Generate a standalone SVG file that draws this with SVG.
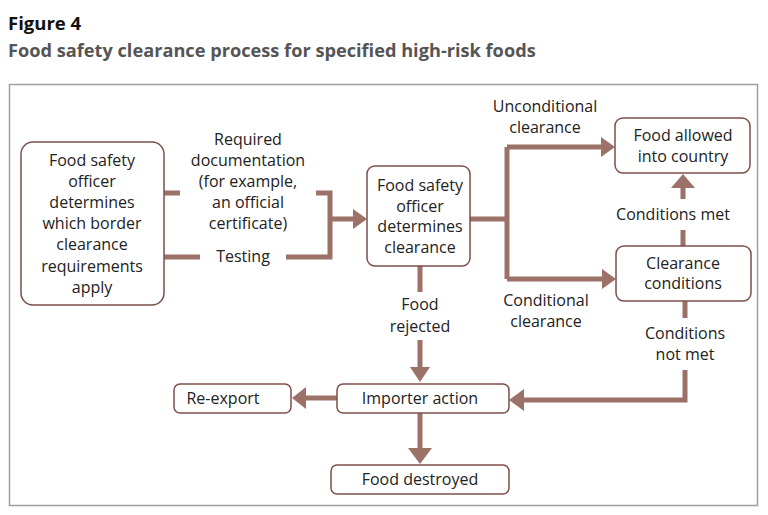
<svg xmlns="http://www.w3.org/2000/svg" width="768" height="515" viewBox="0 0 768 515">
<defs>
<style>
.box{fill:#fff;stroke:#7d4f49;stroke-width:1.5}
.ln{fill:none;stroke:#9b7168;stroke-width:5}
.ah{fill:#9b7168}
text{font-family:"Open Sans","Liberation Sans",sans-serif;font-size:16px;fill:#222;text-anchor:middle}
.t1{font-size:18.5px;font-weight:bold;text-anchor:start;fill:#111}
.t2{font-size:18.2px;font-weight:bold;text-anchor:start;fill:#555}
</style>
</defs>
<rect width="768" height="515" fill="#fff"/>
<text class="t1" x="8" y="30">Figure 4</text>
<text class="t2" x="8" y="57">Food safety clearance process for specified high-risk foods</text>
<rect x="9.5" y="84.5" width="748" height="421" fill="none" stroke="#a0a0a0" stroke-width="1.5"/>

<g id="connectors">
<path class="ln" d="M164 193H180M316 193H330V257H286M200 257H164M330 219H353"/>
<polygon class="ah" points="353,209 367,219 353,229"/>
<path class="ln" d="M470 219H507M507 147V279M507 147H602M507 279H603"/>
<polygon class="ah" points="601,137 615,147 601,157"/>
<polygon class="ah" points="602,269 616,279 602,289"/>
<path class="ln" d="M683 246V230M683 199V186"/>
<polygon class="ah" points="671,188 683,174 695,188"/>
<path class="ln" d="M420 266V292M420 340V368"/>
<polygon class="ah" points="410,367 420,382 430,367"/>
<path class="ln" d="M685 301V318M685 370V400H523"/>
<polygon class="ah" points="524,389 509,400 524,411"/>
<path class="ln" d="M337 398H305"/>
<polygon class="ah" points="306,387 292,398 306,409"/>
<path class="ln" d="M420 413V450"/>
<polygon class="ah" points="408,448 420,464 432,448"/>
</g>

<g id="n-requirements">
<rect class="box" x="21" y="142" width="143" height="163" rx="12"/>
<text x="92" y="166">Food safety</text>
<text x="92" y="187">officer</text>
<text x="92" y="208">determines</text>
<text x="92" y="229">which border</text>
<text x="92" y="250">clearance</text>
<text x="92" y="272">requirements</text>
<text x="92" y="293">apply</text>
</g>
<g id="n-determines">
<rect class="box" x="367" y="166" width="103" height="100" rx="8"/>
<text x="420" y="191">Food safety</text>
<text x="420" y="212">officer</text>
<text x="420" y="232">determines</text>
<text x="420" y="253">clearance</text>
</g>
<g id="n-allowed">
<rect class="box" x="615" y="118" width="135" height="55" rx="8"/>
<text x="683" y="141">Food allowed</text>
<text x="683" y="162">into country</text>
</g>
<g id="n-conditions">
<rect class="box" x="616" y="246" width="135" height="55" rx="8"/>
<text x="683" y="269">Clearance</text>
<text x="683" y="289">conditions</text>
</g>
<g id="n-reexport">
<rect class="box" x="174" y="384" width="117" height="29" rx="6"/>
<text x="223" y="404">Re-export</text>
</g>
<g id="n-importer">
<rect class="box" x="337" y="384" width="172" height="29" rx="6"/>
<text x="420" y="404">Importer action</text>
</g>
<g id="n-destroyed">
<rect class="box" x="331" y="465" width="178" height="29" rx="6"/>
<text x="420" y="485">Food destroyed</text>
</g>

<g id="labels">
<text x="248" y="145">Required</text>
<text x="248" y="166">documentation</text>
<text x="248" y="187">(for example,</text>
<text x="248" y="208">an official</text>
<text x="248" y="229">certificate)</text>
<text x="243" y="262">Testing</text>
<text x="545" y="112">Unconditional</text>
<text x="545" y="133">clearance</text>
<text x="546" y="306">Conditional</text>
<text x="546" y="327">clearance</text>
<text x="673" y="220">Conditions met</text>
<text x="685" y="339">Conditions</text>
<text x="685" y="360">not met</text>
<text x="420" y="310">Food</text>
<text x="420" y="332">rejected</text>
</g>
</svg>
